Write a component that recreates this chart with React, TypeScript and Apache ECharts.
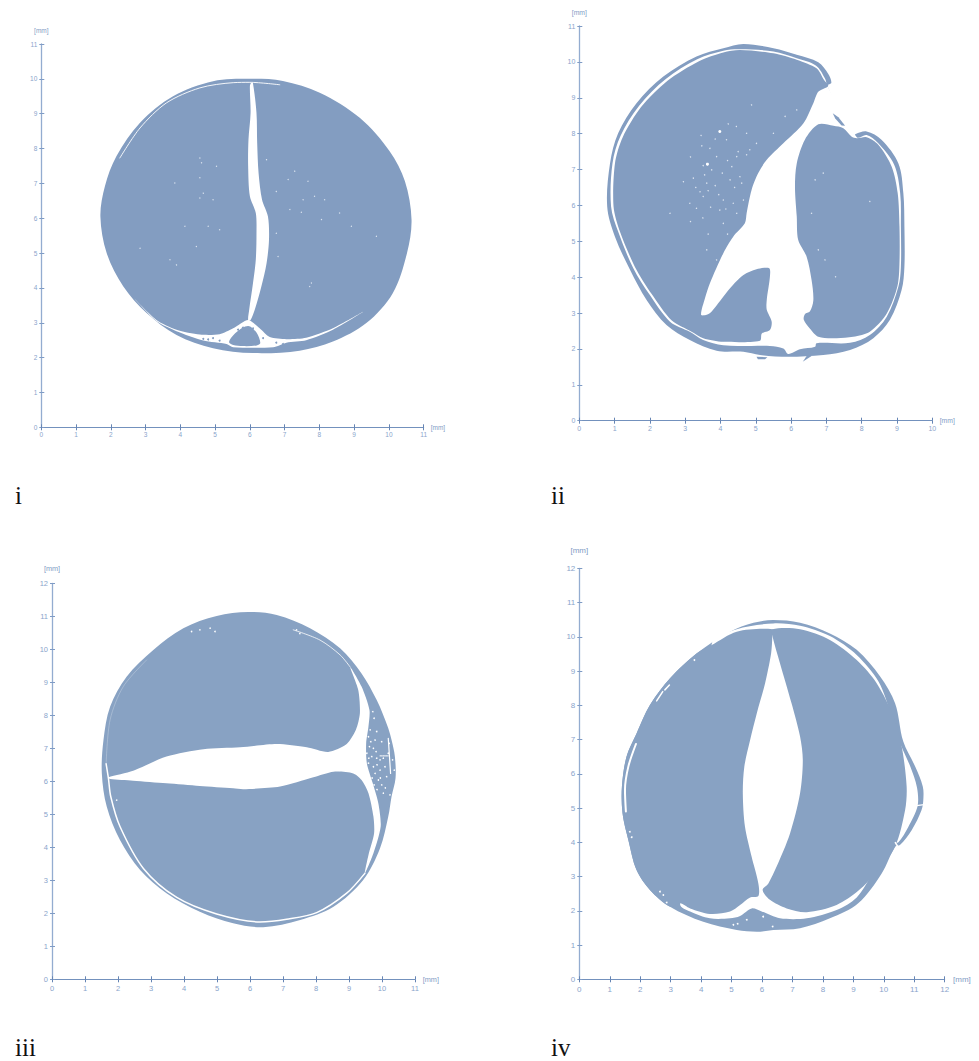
import React, { useEffect, useRef } from "react";
import * as echarts from "echarts";

type P = [number, number];

const ticksX = [11, 10, 11, 12];
const ticksY = [11, 11, 12, 12];
const panelNames = ["i", "ii", "iii", "iv"];
const unit = "[mm]";

/* ---------- panel i ---------- */
const iOuter: P[] = [[6.0,10.0],[6.95,9.94],[8.01,9.6],[9.16,8.88],[10.02,7.92],[10.46,7.06],[10.65,5.96],[10.52,5.0],[10.11,3.85],[9.35,2.99],[8.39,2.46],[7.43,2.2],[6.09,2.13],[4.94,2.27],[3.89,2.65],[3.03,3.28],[2.36,4.04],[1.88,5.0],[1.7,6.05],[1.83,6.92],[2.16,7.78],[2.84,8.74],[3.79,9.5],[4.94,9.93]];
const iCrack: P[] = [[6.04,9.89],[6.0,9.79],[6.02,9.02],[5.96,8.26],[5.95,7.49],[6.0,6.63],[6.17,6.15],[6.19,5.57],[6.17,4.81],[6.09,4.14],[5.98,3.37],[5.95,3.07],[6.02,3.08],[6.14,3.37],[6.33,4.04],[6.48,4.71],[6.55,5.38],[6.52,6.05],[6.35,6.53],[6.25,7.3],[6.21,8.16],[6.19,9.02],[6.09,9.87]];
const iBand: P[] = [[2.64,3.73],[3.31,3.08],[3.89,2.8],[4.56,2.66],[5.13,2.67],[5.52,2.84],[5.95,3.08],[6.28,2.84],[6.57,2.59],[7.05,2.53],[7.62,2.57],[8.39,2.84],[9.27,3.32],[8.39,2.8],[7.62,2.5],[7.05,2.43],[6.67,2.3],[5.52,2.3],[5.33,2.39],[4.66,2.49],[3.89,2.76],[3.31,3.05]];
const iIsland: P[] = [[5.95,2.91],[6.19,2.72],[6.3,2.42],[6.2,2.35],[5.8,2.33],[5.52,2.36],[5.4,2.45],[5.61,2.73]];
const iArc: P[] = [[2.26,7.73],[2.84,8.59],[3.6,9.31],[4.56,9.74],[5.52,9.89],[6.0,9.9],[6.86,9.83]];
const iBlueDots: P[] = [[4.66,2.54],[4.94,2.56],[5.13,2.49],[5.66,2.8],[6.09,2.84],[6.38,2.56],[6.76,2.43],[6.95,2.39],[4.8,2.52],[5.8,2.86]];
const iSpecks: P[] = [[4.56,7.73],[4.61,7.59],[3.84,7.01],[4.56,7.16],[4.66,6.72],[4.56,6.58],[4.94,6.53],[4.13,5.77],[5.13,5.67],[4.46,5.19],[3.89,4.66],[3.7,4.81],[4.8,5.77],[2.84,5.14],[5.04,7.49],[6.48,7.68],[6.76,6.77],[7.1,7.11],[7.67,7.06],[7.86,6.63],[8.15,6.53],[7.48,6.17],[7.15,6.25],[8.92,5.77],[7.29,7.35],[9.64,5.48],[7.72,4.04],[7.77,4.14],[8.06,5.96],[7.53,6.53],[6.76,5.57],[8.58,6.15],[6.81,4.9]];

/* ---------- panel ii ---------- */
const iiOuter: P[] = [[4.65,10.5],[5.5,10.38],[6.16,10.2],[6.77,9.99],[7.05,9.67],[7.14,9.42],[7.03,9.33],[7.76,7.92],[7.83,7.99],[8.14,8.06],[8.56,7.83],[9.04,7.17],[9.18,6.34],[9.21,5.41],[9.21,4.29],[9.13,3.64],[8.8,2.81],[8.33,2.3],[7.67,1.97],[6.91,1.83],[5.92,1.78],[5.12,1.83],[4.65,1.92],[3.89,1.95],[3.13,2.25],[2.47,2.67],[1.91,3.36],[1.44,4.2],[1.01,5.13],[0.79,5.97],[0.87,7.17],[1.1,8.01],[1.62,8.85],[2.38,9.59],[3.32,10.15],[4.08,10.38]];
const iiGap: P[] = [[4.55,10.35],[5.5,10.29],[6.16,10.1],[6.7,9.9],[6.96,9.54],[7.03,9.33],[7.86,7.9],[8.14,7.96],[8.47,7.73],[8.92,7.13],[9.09,6.34],[9.11,5.41],[9.11,4.29],[9.04,3.74],[8.71,2.9],[8.23,2.39],[7.67,2.17],[6.72,2.16],[6.68,2.06],[6.25,1.99],[5.92,1.86],[5.78,2.01],[5.4,2.08],[4.83,2.08],[4.08,2.1],[3.51,2.25],[3.13,2.48],[2.57,2.76],[2.0,3.5],[1.53,4.25],[1.1,5.27],[0.9,5.97],[0.94,7.17],[1.17,7.94],[1.69,8.77],[2.45,9.52],[3.34,10.07],[4.08,10.31]];
const iiLung: P[] = [[4.55,10.33],[5.5,10.24],[6.16,10.06],[6.72,9.82],[6.93,9.5],[7.05,9.33],[6.77,9.17],[6.63,8.85],[6.35,8.29],[5.78,7.73],[5.31,7.27],[5.07,6.9],[4.88,6.43],[4.74,5.78],[4.69,5.5],[4.36,5.13],[4.08,4.67],[3.7,3.83],[3.56,3.41],[3.45,2.95],[3.61,2.95],[3.75,3.04],[4.27,3.69],[4.65,4.06],[5.02,4.22],[5.38,4.25],[5.4,4.01],[5.31,3.36],[5.31,3.09],[5.45,2.76],[5.4,2.53],[5.17,2.43],[5.12,2.23],[4.08,2.2],[3.51,2.3],[3.18,2.48],[2.62,2.79],[2.05,3.53],[1.58,4.28],[1.15,5.27],[0.97,5.97],[1.01,7.17],[1.23,7.9],[1.75,8.74],[2.49,9.47],[3.39,10.02],[4.08,10.26]];
const iiLobe: P[] = [[6.77,8.26],[7.2,8.22],[7.48,8.15],[7.71,7.92],[7.86,7.87],[8.14,7.9],[8.47,7.69],[8.85,7.08],[9.02,6.34],[9.07,5.41],[9.07,4.39],[9.01,3.74],[8.71,2.99],[8.23,2.48],[7.76,2.34],[7.29,2.3],[6.77,2.34],[6.53,2.57],[6.36,2.81],[6.39,2.97],[6.53,3.04],[6.63,3.36],[6.58,3.92],[6.44,4.57],[6.2,5.04],[6.16,5.69],[6.11,6.52],[6.16,7.17],[6.39,7.83]];
const iiShard: P[] = [[7.18,8.57],[7.34,8.46],[7.53,8.22],[7.43,8.23],[7.25,8.42]];
const iiSliver: P[] = [[6.33,1.64],[6.58,1.8],[6.44,1.8]];
const iiChip: P[] = [[5.02,1.78],[5.33,1.77],[5.26,1.71],[5.06,1.71]];
const iiSpecks: P[] = [[3.47,7.66],[3.51,7.11],[3.61,6.62],[3.65,6.41],[3.42,6.38],[3.89,7.36],[4.22,8.27],[4.5,7.5],[4.46,7.36],[4.55,6.8],[4.6,6.62],[4.27,6.71],[4.08,6.15],[3.98,5.87],[4.36,6.06],[3.32,5.92],[2.95,6.66],[2.57,5.78],[3.7,7.59],[4.17,7.83],[4.83,7.55],[5.02,7.73],[4.74,8.01],[5.5,8.01],[5.83,8.48],[6.16,8.66],[4.88,8.8],[4.08,5.5],[3.61,4.76],[3.89,4.48],[3.13,6.06],[4.46,5.78],[4.65,6.15],[3.51,6.25],[3.23,6.76],[3.75,6.99],[4.32,7.08],[4.74,7.41],[3.3,6.5],[3.55,6.85],[3.85,6.55],[4.05,6.9],[4.2,7.25],[3.85,7.85],[3.95,6.3],[3.72,5.95],[3.5,5.65],[3.15,5.55],[4.15,5.9],[4.4,6.5],[3.65,5.2],[4.2,5.2],[3.45,7.95],[4.45,8.2],[3.15,7.35],[6.68,6.71],[7.26,4.01],[6.96,4.48],[6.77,4.76],[6.58,5.78],[8.23,6.11],[6.91,6.9]];
const iiLargeSpecks: P[] = [[3.98,8.06],[3.63,7.15]];

/* ---------- panel iii ---------- */
const iiiOuter: P[] = [[5.95,11.13],[6.81,11.04],[7.82,10.64],[8.73,10.03],[9.38,9.27],[9.84,8.46],[10.19,7.61],[10.29,7.25],[10.39,6.75],[10.41,6.09],[10.29,5.54],[10.19,4.93],[9.94,3.97],[9.43,3.01],[8.53,2.2],[7.52,1.8],[6.4,1.58],[5.49,1.7],[4.48,2.05],[3.47,2.61],[2.67,3.31],[2.06,4.22],[1.66,5.23],[1.51,6.24],[1.56,7.25],[1.76,8.26],[2.26,9.17],[3.07,9.98],[3.98,10.64],[4.99,11.01]];
const iiiCrack: P[] = [[1.71,6.12],[2.46,6.32],[3.47,6.75],[4.59,6.97],[5.7,7.03],[6.81,7.13],[7.72,7.03],[8.37,6.89],[8.93,7.13],[9.21,7.56],[9.33,8.06],[9.28,8.77],[9.03,9.47],[9.38,8.87],[9.62,8.16],[9.59,7.66],[9.52,7.15],[9.54,6.55],[9.72,5.94],[9.89,5.33],[9.96,4.63],[9.74,3.82],[9.48,3.21],[9.59,3.77],[9.76,4.42],[9.74,4.93],[9.59,5.64],[9.38,6.04],[9.13,6.24],[8.53,6.29],[7.92,6.12],[6.91,5.84],[5.8,5.76],[5.49,5.79],[4.48,5.86],[3.47,5.94],[2.46,6.02],[1.76,6.07]];
const iiiLowerGap: P[] = [[9.48,3.21],[8.93,2.61],[8.02,2.02],[7.11,1.82],[6.3,1.74],[4.99,1.98],[3.78,2.48],[2.77,3.36],[2.06,4.63],[1.78,5.54],[1.71,6.09],[1.64,6.53]];
const iiiUpperGap: P[] = [[7.31,10.59],[8.12,10.28],[8.73,9.83],[9.03,9.47]];
const iiiLeftGap: P[] = [[1.64,6.53],[1.76,7.86],[2.16,8.87],[2.87,9.68]];
const iiiStripA: P[] = [[10.19,7.3],[10.26,6.24]];
const iiiStripB: P[] = [[9.94,6.77],[10.19,6.77]];
const iiiSpecks: P[] = [[9.72,8.11],[9.76,7.91],[9.64,7.56],[9.84,7.51],[9.59,7.35],[9.79,7.25],[9.99,7.2],[9.62,7.05],[9.74,7.0],[9.54,6.85],[9.69,6.75],[9.84,6.7],[9.59,6.55],[9.74,6.44],[9.94,6.34],[9.79,6.24],[9.89,6.04],[9.76,5.89],[9.99,5.89],[10.04,5.64],[10.24,5.59],[10.14,6.14],[10.09,6.44],[10.19,6.85],[10.22,7.15],[10.32,6.65],[10.37,6.34],[10.04,6.7],[9.94,6.65],[9.66,7.2],[9.82,6.9],[9.6,6.7],[9.85,6.5],[9.7,6.1],[9.95,6.1],[9.85,5.75],[10.1,5.8],[4.23,10.54],[4.48,10.59],[4.79,10.64],[4.94,10.54],[7.41,10.59],[7.51,10.48],[1.96,5.43]];

/* ---------- panel iv ---------- */
const ivOuter: P[] = [[6.37,10.49],[7.25,10.41],[8.23,10.1],[9.11,9.62],[9.88,8.84],[10.37,8.06],[10.64,6.94],[11.03,6.21],[11.28,5.63],[11.3,5.28],[11.24,4.94],[10.92,4.36],[10.53,3.92],[10.37,3.87],[9.93,3.09],[9.16,2.22],[8.23,1.78],[7.25,1.49],[6.37,1.44],[5.83,1.39],[5.17,1.44],[4.07,1.68],[2.98,2.12],[2.32,2.61],[1.88,3.19],[1.61,4.07],[1.42,4.85],[1.4,5.63],[1.55,6.5],[1.88,7.18],[2.32,8.01],[2.98,8.79],[3.86,9.52],[4.95,10.15],[5.72,10.41]];
const ivGap: P[] = [[4.35,9.79],[5.17,10.22],[6.37,10.39],[7.25,10.32],[8.23,10.02],[9.11,9.47],[9.83,8.69],[10.26,7.67],[10.56,6.84],[10.87,6.21],[11.09,5.6],[11.11,5.06],[10.8,4.44],[10.48,4.0],[10.26,3.92],[9.67,3.14],[9.11,2.39],[8.45,2.02],[7.47,1.78],[6.59,1.78],[5.99,1.98],[5.66,2.07],[5.28,1.85],[4.95,1.78],[4.29,1.78],[3.64,1.98],[3.31,2.2]];
const ivLeftLung: P[] = [[6.34,10.22],[6.34,10.03],[6.3,9.52],[6.1,8.64],[5.83,7.77],[5.61,6.99],[5.42,6.21],[5.37,5.43],[5.44,4.46],[5.66,3.58],[5.88,2.8],[5.88,2.43],[5.61,2.39],[5.28,2.17],[4.95,1.98],[4.29,1.91],[3.64,2.07],[3.31,2.22],[2.98,2.12],[2.32,2.61],[1.88,3.19],[1.61,4.07],[1.42,4.85],[1.4,5.63],[1.55,6.5],[1.88,7.18],[2.32,8.01],[2.98,8.79],[3.86,9.52],[4.35,9.76],[5.17,10.15]];
const ivRightLung: P[] = [[6.34,10.22],[7.25,10.22],[8.23,9.91],[9.11,9.32],[9.77,8.64],[10.32,7.67],[10.59,6.79],[10.75,5.63],[10.7,4.94],[10.37,3.87],[9.77,3.14],[9.17,2.59],[8.45,2.17],[7.47,1.96],[6.81,2.07],[6.26,2.32],[6.02,2.61],[6.21,2.8],[6.48,3.29],[6.92,4.26],[7.25,5.43],[7.34,6.4],[7.25,7.09],[6.97,8.06],[6.59,9.23],[6.34,10.03]];
const ivLeftGap: P[] = [[1.86,6.87],[1.61,6.21],[1.5,5.53],[1.53,4.9]];
const ivDashA: P[] = [[2.54,8.13],[2.74,8.4]];
const ivDashB: P[] = [[2.81,8.45],[2.96,8.59]];
const ivBumpBreak: P[] = [[11.08,5.07],[11.32,5.1]];
const ivShellBreak: P[] = [[10.38,3.99],[10.49,3.83]];
const ivSpecks: P[] = [[3.78,9.32],[1.66,4.31],[1.72,4.15],[2.87,2.24],[2.65,2.56],[2.76,2.46],[5.06,1.59],[6.35,1.54],[6.04,1.83],[5.2,1.62],[5.5,1.74]];

const BLUE = "#839DC1";
const BLUE2 = "#88A2C3";
const WHITE = "#FFFFFF";
const SPECK = "#DDE5F0";

const grids = [
  { left: 41.3, top: 44, width: 382.4, height: 383.3 },
  { left: 579.3, top: 26, width: 353, height: 394.7 },
  { left: 52, top: 583.3, width: 363, height: 396 },
  { left: 579.3, top: 568.3, width: 365.4, height: 411 },
];
const axisStyle = [
  { font: 6.5, name: 6.5, xMargin: 4, yMargin: 4, xGap: 7, yGap: 10, up: 6 },
  { font: 7, name: 6.8, xMargin: 4.5, yMargin: 4, xGap: 7.4, yGap: 10, up: 7 },
  { font: 7.5, name: 7.3, xMargin: 5, yMargin: 4, xGap: 7.7, yGap: 11, up: 8 },
  { font: 8, name: 8, xMargin: 6, yMargin: 4, xGap: 8.3, yGap: 14, up: 9 },
];
const FONT = "Liberation Sans";
const labelPos = [
  { x: 15, y: 495 },
  { x: 551, y: 495 },
  { x: 15, y: 1047 },
  { x: 551, y: 1047 },
];

function App() {
  const ref = useRef<HTMLDivElement>(null);
  useEffect(() => {
    document.body.style.margin = "0";
    const chart = echarts.init(ref.current!, undefined, { renderer: "svg" });

    const xAxis: any[] = [];
    const yAxis: any[] = [];
    grids.forEach((_, i) => {
      const st = axisStyle[i];
      const text = { color: "#8AA4CB", fontSize: st.font, fontFamily: FONT };
      const common = { type: "value", gridIndex: i, min: 0, interval: 1, splitLine: { show: false } };
      xAxis.push({
        ...common, max: ticksX[i], position: "bottom",
        name: unit, nameLocation: "end", nameGap: st.xGap,
        nameTextStyle: { color: "#7F9BC5", fontSize: st.name, fontFamily: FONT, padding: [0, 0, st.up, 0] },
        axisLine: { show: true, onZero: false, lineStyle: { color: "#7391BD", width: 1 } },
        axisTick: { show: true, length: 3, lineStyle: { color: "#6685B4", width: 1 } },
        axisLabel: { ...text, margin: st.xMargin, hideOverlap: false },
      });
      xAxis.push({
        ...common, max: ticksX[i], position: "bottom",
        axisLine: { show: false, onZero: false },
        axisTick: { show: true, inside: true, length: 3, lineStyle: { color: "#6685B4", width: 1 } },
        axisLabel: { show: false },
      });
      yAxis.push({
        ...common, max: ticksY[i], position: "left",
        name: unit, nameLocation: "end", nameGap: st.yGap,
        nameTextStyle: { color: "#7F9BC5", fontSize: st.name, fontFamily: FONT },
        axisLine: { show: true, onZero: false, lineStyle: { color: "#93ACD0", width: 1.3 } },
        axisTick: { show: true, length: 2, lineStyle: { color: "#7F9BC5", width: 1 } },
        axisLabel: { ...text, margin: st.yMargin, hideOverlap: false },
      });
      yAxis.push({
        ...common, max: ticksY[i], position: "left",
        axisLine: { show: false, onZero: false },
        axisTick: { show: true, inside: true, length: 3, lineStyle: { color: "#7F9BC5", width: 1 } },
        axisLabel: { show: false },
      });
    });

    const series: any[] = [];
    const axes = (p: number) => ({ xAxisIndex: p * 2, yAxisIndex: p * 2 });
    const poly = (p: number, pts: P[], fill: string, smooth = 0.33) =>
      series.push({
        type: "custom", ...axes(p), data: pts, encode: { x: 0, y: 1 }, silent: true,
        z: 2 + series.length,
        renderItem: (params: any, api: any) =>
          params.dataIndex === 0
            ? { type: "polygon", shape: { points: pts.map((q) => api.coord(q)), smooth }, style: { fill } }
            : null,
      });
    const gap = (p: number, pts: P[], width: number, opacity = 1) =>
      series.push({
        type: "line", ...axes(p), data: pts, smooth: 0.3, showSymbol: false, symbol: "none", silent: true,
        z: 2 + series.length,
        lineStyle: { color: WHITE, width, opacity, cap: "round" },
      });
    const dots = (p: number, pts: P[], size: number, color: string) =>
      series.push({
        type: "scatter", ...axes(p), data: pts, symbolSize: size, silent: true,
        z: 2 + series.length,
        itemStyle: { color, opacity: 1 },
      });

    // i
    poly(0, iOuter, BLUE);
    dots(0, iSpecks, 1.3, SPECK);
    gap(0, iArc, 0.9);
    poly(0, iCrack, WHITE, 0.3);
    poly(0, iBand, WHITE, 0.25);
    poly(0, iIsland, BLUE, 0.33);
    dots(0, iBlueDots, 2, BLUE);

    // ii
    poly(1, iiOuter, BLUE, 0.33);
    poly(1, iiGap, WHITE, 0.33);
    poly(1, iiLung, BLUE, 0.28);
    poly(1, iiLobe, BLUE, 0.3);
    poly(1, iiShard, BLUE, 0);
    poly(1, iiSliver, BLUE, 0);
    poly(1, iiChip, BLUE, 0);
    dots(1, iiSpecks, 1.4, SPECK);
    dots(1, iiLargeSpecks, 3, WHITE);

    // iii
    poly(2, iiiOuter, BLUE2);
    poly(2, iiiCrack, WHITE, 0.25);
    gap(2, iiiLowerGap, 1.5);
    gap(2, iiiUpperGap, 0.8);
    gap(2, iiiLeftGap, 0.5, 0.5);
    gap(2, iiiStripA, 1.2);
    gap(2, iiiStripB, 1);
    dots(2, iiiSpecks, 1.6, WHITE);

    // iv
    poly(3, ivOuter, BLUE2, 0.33);
    poly(3, ivGap, WHITE, 0.3);
    poly(3, ivLeftLung, BLUE2, 0.3);
    poly(3, ivRightLung, BLUE2, 0.3);
    gap(3, ivLeftGap, 2);
    gap(3, ivDashA, 1.5);
    gap(3, ivDashB, 1.5);
    gap(3, ivBumpBreak, 1.2);
    gap(3, ivShellBreak, 1.6);
    dots(3, ivSpecks, 1.8, WHITE);

    chart.setOption({
      animation: false,
      backgroundColor: "#FFFFFF",
      tooltip: { show: false },
      grid: grids.map((g) => ({ ...g, containLabel: false })),
      xAxis,
      yAxis,
      series,
      graphic: panelNames.map((t, i) => ({
        type: "text",
        x: labelPos[i].x,
        y: labelPos[i].y,
        silent: true,
        style: { text: t, fill: "#111111", fontSize: 25, fontFamily: "Liberation Serif", verticalAlign: "middle", align: "left" },
      })),
    });
    return () => chart.dispose();
  }, []);
  return <div ref={ref} style={{ position: "absolute", left: 0, top: 0, width: 979, height: 1061 }} />;
}

export default App;
